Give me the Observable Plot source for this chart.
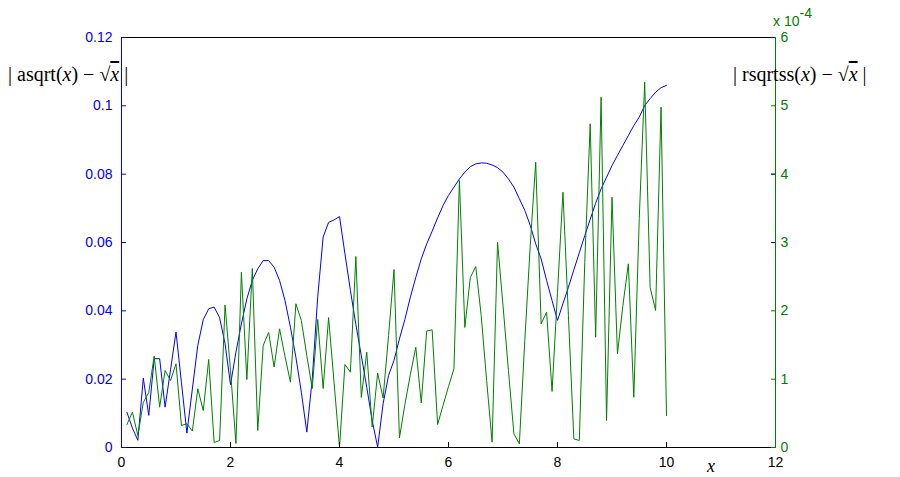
<!DOCTYPE html>
<html><head><meta charset="utf-8">
<script src="https://cdn.jsdelivr.net/npm/d3@7"></script>
<script src="https://cdn.jsdelivr.net/npm/@observablehq/plot@0.6"></script>
<style>html,body{margin:0;padding:0;background:#fff;} svg{display:block}</style>
</head><body><div id="chart"></div>
<script>
// x sample positions
const xValues = [0.1,0.2,0.3,0.4,0.5,0.6,0.7,0.8,0.9,1.0,
 1.1,1.2,1.3,1.4,1.5,1.6,1.7,1.8,1.9,2.0,
 2.1,2.2,2.3,2.4,2.5,2.6,2.7,2.8,2.9,3.0,
 3.1,3.2,3.3,3.4,3.5,3.6,3.7,3.8,3.9,4.0,
 4.1,4.2,4.3,4.4,4.5,4.6,4.7,4.8,4.9,5.0,
 5.1,5.2,5.3,5.4,5.5,5.6,5.7,5.8,5.9,6.0,
 6.1,6.2,6.3,6.4,6.5,6.6,6.7,6.8,6.9,7.0,
 7.1,7.2,7.3,7.4,7.5,7.6,7.7,7.8,7.9,8.0,
 8.1,8.2,8.3,8.4,8.5,8.6,8.7,8.8,8.9,9.0,
 9.1,9.2,9.3,9.4,9.5,9.6,9.7,9.8,9.9,10.0];
// |asqrt(x) - sqrt(x)|  (left axis)
const asqrtError = [0.0103,0.0057,0.0021,0.0203,0.0094,0.0260,0.0260,0.0118,0.0228,0.0338,
 0.0190,0.0042,0.0171,0.0299,0.0374,0.0406,0.0411,0.0380,0.0304,0.0184,
 0.0279,0.0362,0.0435,0.0489,0.0523,0.0547,0.0547,0.0528,0.0489,0.0430,
 0.0352,0.0264,0.0162,0.0045,0.0201,0.0440,0.0616,0.0659,0.0666,0.0676,
 0.0567,0.0460,0.0360,0.0269,0.0176,0.0079,0.0001,0.0128,0.0211,0.0255,
 0.0318,0.0375,0.0440,0.0498,0.0552,0.0596,0.0633,0.0672,0.0708,0.0738,
 0.0762,0.0786,0.0806,0.0822,0.0830,0.0833,0.0832,0.0827,0.0819,0.0806,
 0.0786,0.0762,0.0728,0.0694,0.0650,0.0596,0.0552,0.0489,0.0430,0.0372,
 0.0421,0.0469,0.0520,0.0570,0.0620,0.0668,0.0715,0.0757,0.0791,0.0825,
 0.0855,0.0884,0.0913,0.0942,0.0967,0.1001,0.1021,0.1040,0.1053,0.1060];
// |rsqrtss(x) - sqrt(x)|  in units of 1e-4 (right axis)
const rsqrtssError = [0.337,0.517,0.176,0.659,0.805,1.339,0.590,1.127,0.980,1.225,
 0.322,0.347,0.241,0.859,0.541,1.288,0.073,0.102,2.085,1.127,
 0.059,2.565,0.995,2.619,0.249,1.493,1.683,1.178,1.737,1.332,
 0.956,2.103,1.859,1.346,0.863,1.873,0.863,1.902,0.951,0.004,
 1.215,1.102,2.795,0.732,1.395,0.300,1.090,0.724,1.639,2.605,
 0.139,0.629,1.068,1.468,0.651,1.705,1.722,0.337,0.615,0.893,
 1.152,3.907,1.756,2.488,2.649,1.932,0.980,0.078,3.004,2.078,
 1.127,0.200,0.054,1.566,2.956,4.175,1.810,1.980,0.820,2.268,
 3.736,1.932,0.127,0.102,2.707,4.737,1.614,5.126,0.395,3.663,
 1.371,2.078,2.688,0.736,3.351,5.346,2.341,2.005,4.980,0.468];

const xTicks = [0,2,4,6,8,10,12];
const leftTicks = [0,0.02,0.04,0.06,0.08,0.1,0.12];
const leftTickLabels = ["0","0.02","0.04","0.06","0.08","0.1","0.12"];
const rightTicks = [0,1,2,3,4,5,6];
const rightToLeft = 0.02; // 1e-4 on the right axis sits at 0.02 on the left axis

const BLUE = "#0000ff", GREEN = "#008000";
const blueData = xValues.map((x, i) => ({x, y: asqrtError[i]}));
const greenData = xValues.map((x, i) => ({x, y: rsqrtssError[i] * rightToLeft}));

const chart = Plot.plot({
  width: 900, height: 477,
  marginLeft: 121, marginRight: 125, marginTop: 37, marginBottom: 30,
  x: {domain: [0, 12]},
  y: {domain: [0, 0.12]},
  style: {fontFamily: "'Liberation Sans', Arial, sans-serif", fontSize: "14px", background: "#fff", overflow: "visible"},
  marks: [
    Plot.line(blueData, {x: "x", y: "y", stroke: BLUE, strokeWidth: 1}),
    Plot.line(greenData, {x: "x", y: "y", stroke: GREEN, strokeWidth: 1}),
    Plot.ruleY([0.12], {stroke: "#000"}),
    Plot.ruleY([0], {stroke: "#000"}),
    Plot.axisX({ticks: xTicks, tickSize: -5, tickPadding: 15, tickFormat: d => String(d), color: "#000", label: null}),
    Plot.axisY({anchor: "left", ticks: leftTicks, tickSize: -5, tickPadding: 14,
      tickFormat: (d, i) => leftTickLabels[i], color: BLUE, label: null}),
    Plot.ruleX([0], {stroke: BLUE}),
    Plot.axisY(rightTicks.map(t => t * rightToLeft), {anchor: "right", tickSize: -5, tickPadding: 10,
      tickFormat: (d, i) => String(rightTicks[i]), color: GREEN, label: null}),
    Plot.axisY([0.06, 0.08, 0.12], {anchor: "right", tickSize: -5, text: null, stroke: BLUE, label: null}),
    Plot.ruleX([12], {stroke: GREEN})
  ]
});
document.getElementById("chart").appendChild(chart);

const svg = d3.select(chart);
function sqrtLabel(g, x, y, name) {
  const t = g.append("text").attr("x", x).attr("y", y)
    .attr("text-anchor", "start")
    .attr("font-family", "'Liberation Serif', 'Times New Roman', serif")
    .attr("font-size", 20).attr("fill", "#000");
  t.append("tspan").text("| " + name + "(");
  t.append("tspan").attr("font-style", "italic").text("x");
  t.append("tspan").text(") − √");
  t.append("tspan").attr("font-style", "italic").style("text-decoration", "overline").text("x");
  t.append("tspan").text(" |");
  return t;
}
sqrtLabel(svg, 8, 81, "asqrt");
sqrtLabel(svg, 733, 81, "rsqrtss");

svg.append("text").attr("x", 707).attr("y", 472).attr("text-anchor", "start")
  .attr("font-family", "'Liberation Serif', 'Times New Roman', serif")
  .attr("font-style", "italic").attr("font-size", 18).text("x");

const exp = svg.append("text").attr("x", 773).attr("y", 26).attr("text-anchor", "start")
  .attr("font-family", "'Liberation Sans', Arial, sans-serif").attr("font-size", 14).attr("fill", GREEN);
exp.append("tspan").text("x 10");
exp.append("tspan").attr("dy", -8).attr("font-size", 14).text("-4");
</script>
</body></html>
